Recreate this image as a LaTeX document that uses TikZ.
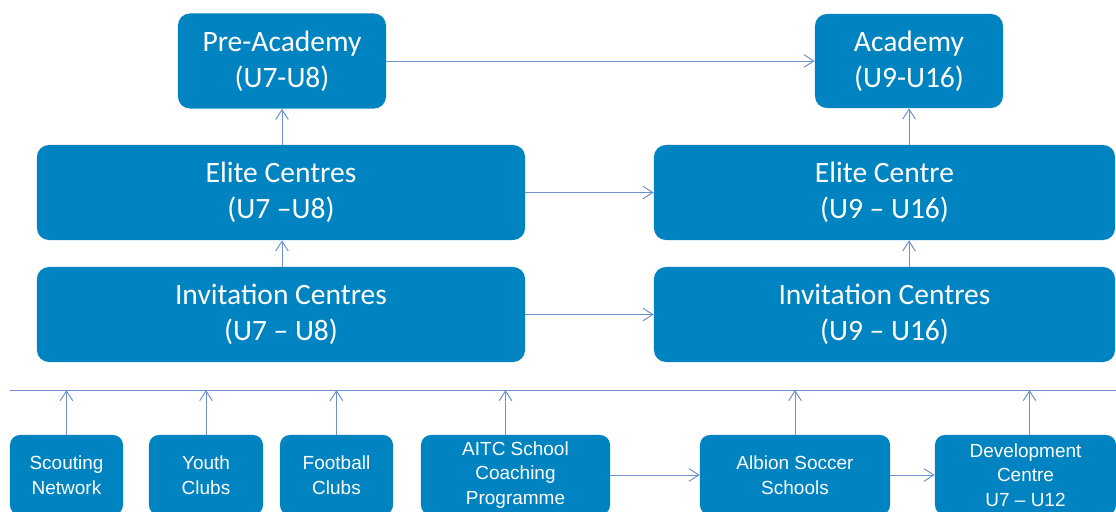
\documentclass[tikz,border=0pt]{standalone}
\usepackage{fontspec}
\setmainfont{Carlito}
\newfontfamily\arialfont{Liberation Sans}
\usetikzlibrary{arrows.meta}

\definecolor{boxblue}{RGB}{0,131,193}
\definecolor{linkblue}{RGB}{110,145,205}

\tikzset{
  bigbox/.style={draw=none, fill=boxblue, rounded corners=8.5pt, text=white, align=center,
    inner sep=0pt, font=\fontsize{21}{25.6}\selectfont},
  smallbox/.style={draw=none, fill=boxblue, rounded corners=7pt, text=white, align=center,
    inner sep=0pt, minimum height=2cm, font=\arialfont\fontsize{13.5}{17.6}\selectfont},
  arr/.style={draw=linkblue, line width=0.7pt, -{Straight Barb[length=7pt,width=9pt]}}
}

\begin{document}
\begin{tikzpicture}[x=0.025cm,y=-0.025cm]
\useasboundingbox (0,0) rectangle (1116,512);
\clip (0,0) rectangle (1116,512);

% top row
\node[bigbox, minimum width=5.2cm, minimum height=2.375cm] (pre) at (282,61) {Pre-Academy\\(U7-U8)};
\node[bigbox, minimum width=4.7cm, minimum height=2.35cm] (acad) at (909,61) {Academy\\(U9-U16)};

% centres
\node[bigbox, minimum width=12.2cm, minimum height=2.375cm] (eliteL) at (281,192.5) {Elite Centres\\(U7 –U8)};
\node[bigbox, minimum width=11.525cm, minimum height=2.375cm] (eliteR) at (884.5,192.5) {Elite Centre\\(U9 – U16)};
\node[bigbox, minimum width=12.2cm, minimum height=2.375cm] (invL) at (281,314.5) {Invitation Centres\\(U7 – U8)};
\node[bigbox, minimum width=11.525cm, minimum height=2.375cm] (invR) at (884.5,314.5) {Invitation Centres\\(U9 – U16)};

% feeder line
\coordinate (barL) at (10,390);
\coordinate (barR) at (1116,390);
\draw[linkblue, line width=0.7pt] (barL) -- (barR);

% feeders
\node[smallbox, minimum width=2.825cm] (scout) at (66.5,475) {Scouting\\Network};
\node[smallbox, minimum width=2.85cm] (youth) at (206,475) {Youth\\Clubs};
\node[smallbox, minimum width=2.825cm] (football) at (336.5,475) {Football\\Clubs};
\node[smallbox, minimum width=4.725cm] (aitc) at (515.5,475) {AITC School\\Coaching\\Programme};
\node[smallbox, minimum width=4.75cm] (albion) at (795,475) {Albion Soccer\\Schools};
\node[smallbox, minimum width=4.525cm] (devc) at (1025.5,475) {Development\\Centre\\U7 – U12};

% arrows
\draw[arr] (pre.east) -- (acad.west);
\draw[arr] (eliteL.north -| pre.south) -- (pre.south);
\draw[arr] (invL.north -| pre.south) -- (eliteL.south -| pre.south);
\draw[arr] (eliteL.east) -- (eliteR.west);
\draw[arr] (invL.east) -- (invR.west);
\draw[arr] (eliteR.north -| acad.south) -- (acad.south);
\draw[arr] (invR.north -| acad.south) -- (eliteR.south -| acad.south);

\draw[arr] (scout.north) -- (scout.north |- barL);
\draw[arr] (youth.north) -- (youth.north |- barL);
\draw[arr] (football.north) -- (football.north |- barL);
\draw[arr] ([xshift=-0.25cm]aitc.north) -- ([xshift=-0.25cm]aitc.north |- barL);
\draw[arr] (albion.north) -- (albion.north |- barL);
\draw[arr] ([xshift=0.1cm]devc.north) -- ([xshift=0.1cm]devc.north |- barL);
\draw[arr] (aitc.east) -- (albion.west);
\draw[arr] (albion.east) -- (devc.west);
\end{tikzpicture}
\end{document}
